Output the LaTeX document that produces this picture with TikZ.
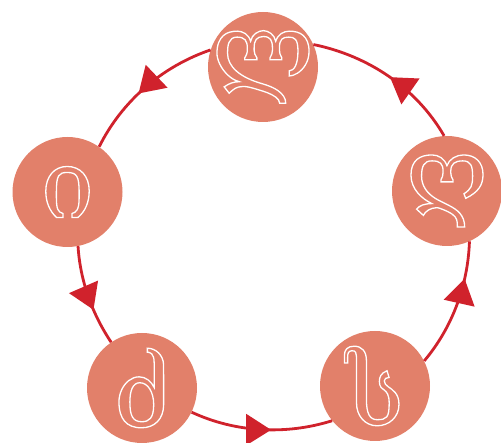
\documentclass[tikz,border=0pt]{standalone}
\usepackage{fontspec}
\usetikzlibrary{arrows.meta,decorations.markings}
\newfontfamily\geofont{DejaVu Serif}
\definecolor{ringred}{RGB}{208,34,44}
\definecolor{letterbg}{RGB}{226,128,106}
% outlined glyphs: stroke only, white
\newcommand{\outlined}[1]{\special{pdf:literal 1 Tr 1.3 w}#1\special{pdf:literal 0 Tr}}

\tikzset{
  letter/.style={circle,fill=letterbg,minimum size=110pt,inner sep=0pt,
    label={[glyph]center:\outlined{#1}}},
  glyph/.style={inner sep=0pt,text=white,font=\geofont\fontsize{96}{100}\selectfont},
  ring/.style={draw=ringred,line width=2.8pt},
  midarrow/.style={postaction={decorate},decoration={markings,
    mark=at position #1 with {\arrow{Triangle[length=25pt,width=31pt]}}}}
}

\begin{document}
\begin{tikzpicture}[x=1pt,y=1pt,ringred]
  \useasboundingbox (0,0) rectangle (501,443);
  % letters on the ring
  \node[letter=ლ] (las) at (263,376) {};
  \node[letter=ღ] (ghan) at (447,252) {};
  \node[letter=ი] (in) at (67.5,251) {};
  \node[letter=ძ] (dzil) at (142,55) {};
  \node[letter=ს] (san) at (375,57) {};
  % ring arcs between letters
  \draw[ring,midarrow=0.56] (las.162.6) to[out=198.9,in=63.5,looseness=0.885] (in.55.6);
  \draw[ring,midarrow=0.64] (in.281.4) to[out=273.5,in=123.7,looseness=0.866] (dzil.124.5);
  \draw[ring,midarrow=0.57] (dzil.334.3) to[out=335.1,in=197.4,looseness=0.881] (san.219.5);
  \draw[ring,midarrow=0.71] (san.27.6) to[out=49.8,in=268,looseness=0.876] (ghan.294.7);
  \draw[ring,midarrow=0.49] (ghan.93.3) to[out=120,in=348.5,looseness=0.891] (las.24.8);
\end{tikzpicture}
\end{document}
